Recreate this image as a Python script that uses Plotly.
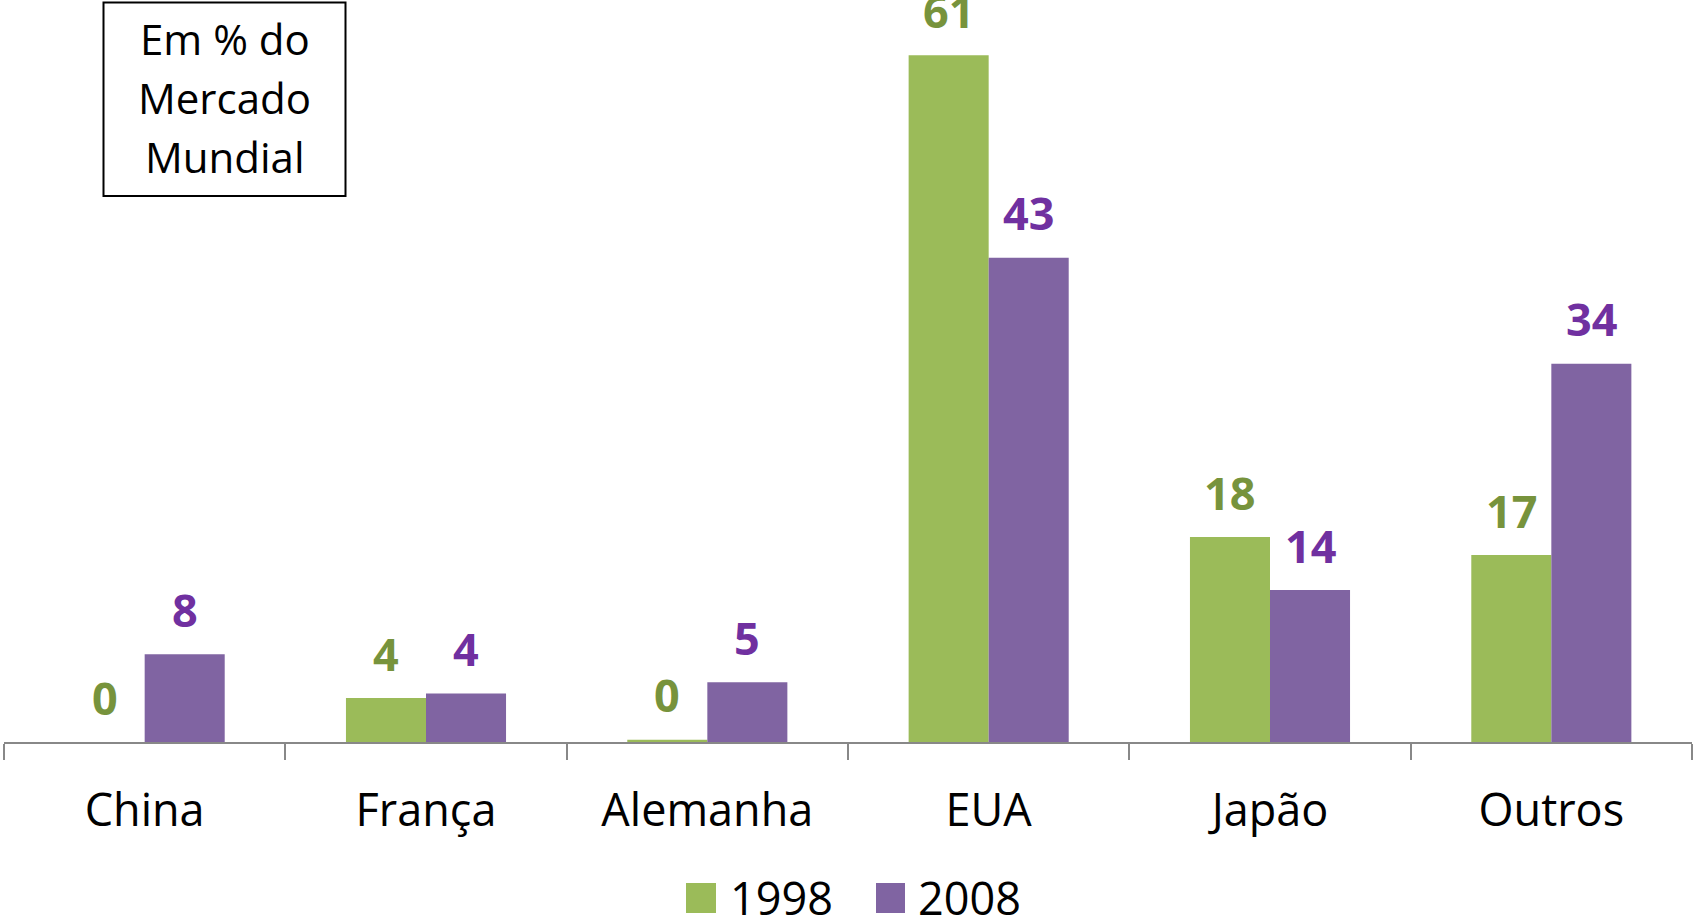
import plotly.graph_objects as go

categories = ["China", "França", "Alemanha", "EUA", "Japão", "Outros"]
values_1998 = [0, 3.9, 0.2, 61, 18.2, 16.6]
values_2008 = [7.8, 4.3, 5.3, 43, 13.5, 33.6]
series_names = ["1998", "2008"]

bar_colors = ["#9BBB59", "#8064A2"]
label_colors = ["#77933C", "#7030A0"]

W, H = 1695, 921
ML, MR, MT, MB = 4, 3, 0, 179
PW, PH = W - ML - MR, H - MT - MB


def px(x):
    return (x - ML) / PW


def py(y):
    return 1 - (y - MT) / PH


FONT = "Open Sans"

fig = go.Figure()
for name, vals, col in zip(series_names, [values_1998, values_2008], bar_colors):
    fig.add_trace(go.Bar(x=categories, y=vals, name=name, marker_color=col,
                         marker_line_width=0, showlegend=False))

annotations = []
cat_w = PW / len(categories)
bar_w = cat_w * (1 - 0.431) / 2
for k, (vals, col) in enumerate(zip([values_1998, values_2008], label_colors)):
    shift = (-0.5 if k == 0 else 0.5) * bar_w
    for c, v in zip(categories, vals):
        annotations.append(dict(x=c, y=v, xref="x", yref="y", text=f"{round(v):d}",
                                showarrow=False, xshift=shift, yshift=45,
                                yanchor="middle", xanchor="center",
                                font=dict(family=FONT, size=45, color=col, weight="bold")))

# Title box text
for txt, yc in zip(["Em % do", "Mercado", "Mundial"], [39, 97.5, 156]):
    annotations.append(dict(x=px(224.5), y=py(yc), xref="paper", yref="paper", text=txt,
                            showarrow=False, xanchor="center", yanchor="middle",
                            font=dict(family=FONT, size=42, color="black")))

# Legend text
for txt, xl in zip(series_names, [728, 916]):
    annotations.append(dict(x=px(xl), y=py(897), xref="paper", yref="paper", text=txt,
                            showarrow=False, xanchor="left", yanchor="middle",
                            font=dict(family=FONT, size=45, color="black")))

shapes = [
    dict(type="rect", xref="paper", yref="paper", x0=px(103.5), x1=px(345.5),
         y0=py(196), y1=py(2.5), line=dict(color="black", width=2), fillcolor="rgba(0,0,0,0)"),
    dict(type="rect", xref="paper", yref="paper", x0=px(686), x1=px(716),
         y0=py(913), y1=py(883), line=dict(width=0), fillcolor=bar_colors[0]),
    dict(type="rect", xref="paper", yref="paper", x0=px(876), x1=px(905),
         y0=py(913), y1=py(883), line=dict(width=0), fillcolor=bar_colors[1]),
]

fig.update_layout(
    width=W, height=H,
    margin=dict(l=ML, r=MR, t=MT, b=MB, pad=0),
    paper_bgcolor="white", plot_bgcolor="white",
    barmode="group", bargap=0.431, bargroupgap=0,
    annotations=annotations, shapes=shapes,
    showlegend=False,
    font=dict(family=FONT, color="black"),
)
fig.update_xaxes(showline=True, linecolor="#888888", linewidth=2,
                 ticks="outside", tickson="boundaries", ticklen=16, tickwidth=2,
                 tickcolor="#888888", showgrid=False,
                 tickfont=dict(family=FONT, size=45, color="black"),
                 ticklabelstandoff=28)
fig.update_yaxes(range=[0, 65.9], visible=False, showgrid=False, zeroline=False)

fig.write_html("out.html")
